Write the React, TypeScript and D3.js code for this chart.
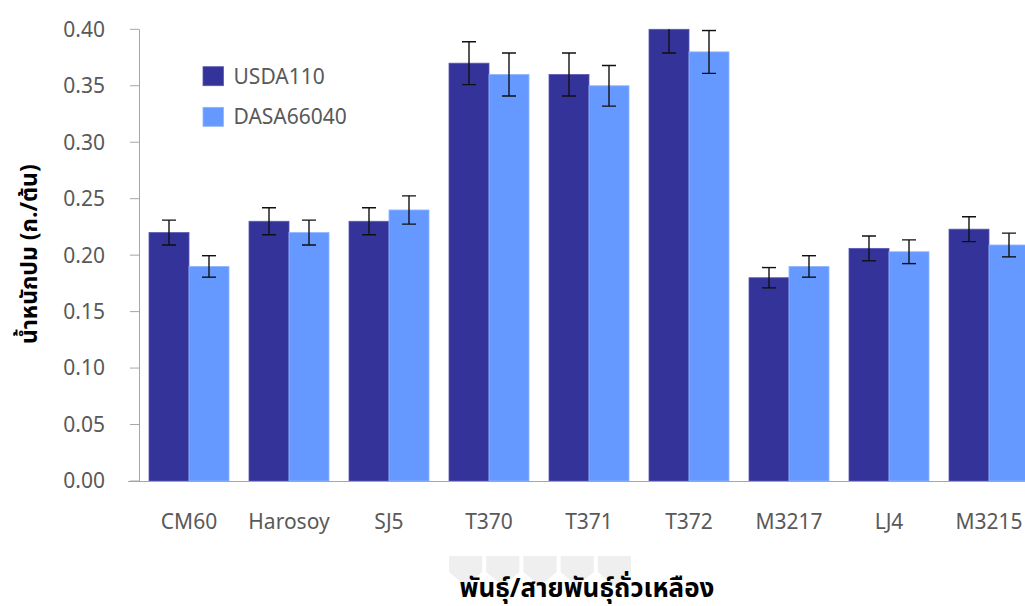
import React from "react";
import * as d3 from "d3";

const categories = ["CM60", "Harosoy", "SJ5", "T370", "T371", "T372", "M3217", "LJ4", "M3215"];
const seriesNames = ["USDA110", "DASA66040"];
const usda110 = [0.22, 0.23, 0.23, 0.37, 0.36, 0.4, 0.18, 0.206, 0.223];
const usda110Err = [0.011, 0.012, 0.012, 0.019, 0.019, 0.021, 0.009, 0.011, 0.011];
const dasa66040 = [0.19, 0.22, 0.24, 0.36, 0.35, 0.38, 0.19, 0.203, 0.209];
const dasa66040Err = [0.0095, 0.011, 0.0125, 0.019, 0.018, 0.019, 0.0095, 0.0105, 0.0105];
const yTicks = [0, 0.05, 0.1, 0.15, 0.2, 0.25, 0.3, 0.35, 0.4];
const colors = ["#333399", "#6699FF"];
const strokes = ["#5a5ab5", "#8fb5ff"];

const yTitle = "น้ำหนักปม (ก./ต้น)";
const xTitle = "พันธุ์/สายพันธุ์ถั่วเหลือง";

const W = 1025;
const H = 606;
const left = 139;
const top = 29.3;
const bottom = 481;
const font = "'Noto Sans', 'Open Sans', 'DejaVu Sans', sans-serif";
const thaiFont = "'Noto Sans Thai', 'Noto Sans', 'DejaVu Sans', sans-serif";
const labelSize = 21;

// faint row of pennants behind the x-axis title
function pennants(x0: number, x1: number, y0: number, n: number) {
  const w = (x1 - x0) / n;
  return d3.range(n).map((i) => {
    const l = x0 + i * w + 2;
    const r = x0 + (i + 1) * w - 2;
    const p = d3.path();
    p.moveTo(l, y0);
    p.lineTo(r, y0);
    p.lineTo(r, y0 + 16);
    p.lineTo((l + r) / 2, y0 + 30);
    p.lineTo(l, y0 + 16);
    p.closePath();
    return p.toString();
  });
}

export default function App() {
  const x0 = d3
    .scaleBand<string>()
    .domain(categories)
    .range([left, left + 100 * categories.length])
    .paddingInner(0.2)
    .paddingOuter(0.1);
  const x1 = d3.scaleBand<string>().domain(seriesNames).range([0, x0.bandwidth()]);
  const y = d3.scaleLinear().domain([0, 0.4]).range([bottom, top]);

  const series = [
    { name: seriesNames[0], values: usda110, errs: usda110Err },
    { name: seriesNames[1], values: dasa66040, errs: dasa66040Err },
  ];

  return (
    <div style={{ position: "fixed", left: 0, top: 0, width: W, height: H, overflow: "hidden" }}>
      <svg width={W} height={H} style={{ display: "block", background: "#fff" }}>
        <defs>
          <clipPath id="plotClip">
            <rect x={left} y={top} width={W - left} height={bottom - top} />
          </clipPath>
        </defs>

        {pennants(447, 633, 556, 5).map((d, i) => (
          <path key={i} d={d} fill="#efefef" />
        ))}

        {/* bars */}
        {series.map((s, si) =>
          categories.map((c, i) => {
            const bx = (x0(c) as number) + (x1(s.name) as number);
            const by = y(s.values[i]);
            return (
              <rect
                key={`${si}-${c}`}
                x={bx}
                y={by}
                width={x1.bandwidth()}
                height={bottom - by}
                fill={colors[si]}
                stroke={strokes[si]}
                strokeWidth={0.8}
              />
            );
          })
        )}

        {/* error bars */}
        <g clipPath="url(#plotClip)">
          {series.map((s, si) =>
            categories.map((c, i) => {
              const cx = (x0(c) as number) + (x1(s.name) as number) + x1.bandwidth() / 2;
              const hi = y(s.values[i] + s.errs[i]);
              const lo = y(s.values[i] - s.errs[i]);
              return (
                <g key={`e${si}-${c}`} stroke="#111" strokeWidth={1.4}>
                  <line x1={cx} x2={cx} y1={hi} y2={lo} />
                  <line x1={cx - 7} x2={cx + 7} y1={hi} y2={hi} />
                  <line x1={cx - 7} x2={cx + 7} y1={lo} y2={lo} />
                </g>
              );
            })
          )}
        </g>

        {/* y axis */}
        <line x1={left + 0.5} x2={left + 0.5} y1={top} y2={bottom} stroke="#a6a6a6" strokeWidth={1} />
        {yTicks.map((t) => (
          <g key={t}>
            <line x1={130} x2={left} y1={y(t)} y2={y(t)} stroke="#a6a6a6" strokeWidth={1} />
            <text
              x={105}
              y={y(t)}
              dy="0.35em"
              textAnchor="end"
              fontFamily={font}
              fontSize={labelSize}
              fill="#595959"
            >
              {d3.format(".2f")(t)}
            </text>
          </g>
        ))}

        {/* x axis */}
        <line x1={128} x2={W} y1={bottom + 0.5} y2={bottom + 0.5} stroke="#a6a6a6" strokeWidth={1} />
        {categories.map((c) => (
          <text
            key={c}
            x={(x0(c) as number) + x0.bandwidth() / 2}
            y={529}
            textAnchor="middle"
            fontFamily={font}
            fontSize={labelSize}
            fill="#595959"
          >
            {c}
          </text>
        ))}

        {/* legend */}
        {seriesNames.map((n, i) => (
          <g key={n} transform={`translate(203, ${66.7 + i * 40.6})`}>
            <rect x={0} y={0} width={20.5} height={19} fill={colors[i]} stroke={strokes[i]} strokeWidth={0.8} />
            <text x={30.5} y={9.5} dy="0.35em" fontFamily={font} fontSize={labelSize} fill="#595959">
              {n}
            </text>
          </g>
        ))}

        {/* axis titles */}
        <text
          transform={`translate(37, ${(top + bottom) / 2 - 1}) rotate(-90)`}
          textAnchor="middle"
          fontFamily={thaiFont}
          fontWeight="bold"
          fontSize={23}
          fill="#000"
        >
          {yTitle}
        </text>
        <text
          x={587}
          y={597}
          textAnchor="middle"
          fontFamily={thaiFont}
          fontWeight="bold"
          fontSize={26}
          fill="#000"
        >
          {xTitle}
        </text>
      </svg>
    </div>
  );
}
